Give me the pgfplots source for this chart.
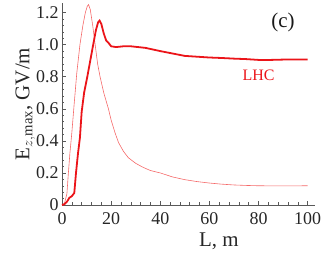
\documentclass[border=0pt]{standalone}
\usepackage{pgfplots}
\pgfplotsset{compat=1.18}
\usepackage{fontspec}
\setmainfont{Liberation Serif}
\definecolor{thickred}{RGB}{235,20,25}
\definecolor{thinred}{RGB}{245,105,105}
\begin{document}
\begin{tikzpicture}[x=1bp,y=1bp]
\path[use as bounding box] (0,0) rectangle (332,260);
\begin{axis}[
  at={(62bp,55bp)}, anchor=south west,
  scale only axis,
  width=253bp, height=202bp,
  xmin=0, xmax=103, ymin=0, ymax=1.26,
  axis lines=left,
  axis line style={-, gray!70!black, line width=0.6pt},
  tick align=inside,
  tick style={gray!70!black, line width=0.5pt},
  major tick length=4bp, minor tick length=2.5bp,
  xtick={0,20,40,60,80,100},
  ytick={0,0.2,0.4,0.6,0.8,1.0,1.2},
  yticklabels={0,0.2,0.4,0.6,0.8,1.0,1.2},
  minor x tick num=4, minor y tick num=4,
  /pgf/number format/assume math mode=true,
  ticklabel style={font=\fontsize{18}{18}\selectfont, text=black!85},
  xticklabel style={yshift=-4bp},
  xlabel={L, m},
  ylabel={E$_{z,\mathrm{max}}$, GV/m},
  label style={font=\fontsize{21}{21}\selectfont, text=black!85},
  xlabel style={at={(axis description cs:0.62,0)}, anchor=north, inner sep=0pt, yshift=-28bp},
  ylabel style={yshift=-6bp},
  clip=false,
]
\addplot[thinred, line width=0.6pt] coordinates {
(0,0) (1,0.01) (2,0.07) (2.6,0.2) (3.2,0.32) (4,0.45) (4.9,0.62) (6,0.82) (7.3,1.0) (8.5,1.12) (9.5,1.2) (10.3,1.24) (10.8,1.25) (11.5,1.22) (12.5,1.12) (13.5,1.0) (14.5,0.88) (15.5,0.8) (17,0.7) (18.9,0.6) (20,0.53) (21.6,0.45) (23,0.39) (25,0.335) (27,0.295) (30,0.26) (33,0.235) (36,0.215) (40,0.2) (45,0.175) (50,0.158) (55,0.146) (60,0.137) (65,0.13) (70,0.125) (75,0.122) (80,0.12) (90,0.119) (100,0.12)
};
\addplot[thickred, line width=1.8pt] coordinates {
(0,0) (1,0.005) (2,0.02) (3,0.045) (4,0.055) (5,0.075) (5.7,0.2) (6.5,0.32) (7.3,0.42) (8,0.58) (9,0.7) (10.3,0.8) (11.5,0.9) (12.7,1.0) (13.8,1.09) (14.7,1.14) (15.3,1.15) (16,1.13) (17,1.07) (18,1.025) (19,1.01) (20,0.99) (22,0.985) (25,0.99) (28,0.99) (31,0.985) (34,0.98) (37,0.97) (40,0.96) (45,0.945) (50,0.93) (55,0.925) (60,0.92) (65,0.917) (70,0.913) (75,0.91) (80,0.905) (85,0.905) (90,0.907) (95,0.908) (100,0.908)
};
\node[font=\fontsize{21}{21}\selectfont, text=black!90] at (axis cs:90,1.14) {(c)};
\node[font=\fontsize{16}{16}\selectfont, text=thickred] at (axis cs:80,0.81) {LHC};
\end{axis}
\end{tikzpicture}
\end{document}
